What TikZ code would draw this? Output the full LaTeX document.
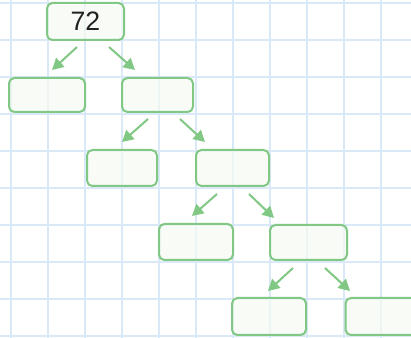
\documentclass[tikz,border=0pt]{standalone}
\usepackage{fontspec}
\setmainfont{Liberation Sans}
\usetikzlibrary{calc,arrows.meta}
\definecolor{gridblue}{HTML}{DAE9F8}
\definecolor{boxgreen}{HTML}{80C883}
\definecolor{boxfill}{HTML}{F6FAF3}
\definecolor{textdark}{HTML}{222222}
\begin{document}
\begin{tikzpicture}[x=0.75pt,y=-0.75pt,
  tbox/.style={draw=boxgreen,line width=1.5pt,rounded corners=4pt,fill=boxfill,fill opacity=0.7,text opacity=1,inner sep=0pt,text=textdark,font=\fontsize{20pt}{22pt}\selectfont},
  tarrow/.style={draw=boxgreen,line width=1.5pt,-{Triangle[length=8.5pt,width=9pt]},fill=boxgreen}]
\useasboundingbox (0,0) rectangle (411,338);
\fill[white] (0,0) rectangle (411,338);
\begin{scope}
\clip (0,0) rectangle (411,338);
\foreach \i in {0,...,10} {
  \draw[gridblue,line width=1.5pt] ({11+36.95*\i},0) -- ({11+36.95*\i},338);
  \draw[gridblue,line width=1.5pt] (0,{3+36.95*\i}) -- (411,{3+36.95*\i});
}
\node[tbox,minimum width=57.75pt,minimum height=27.75pt] (root) at (85.5,21.5) {72};
\node[tbox,minimum width=57pt,minimum height=25.5pt] (l1a) at (47,95) {};
\node[tbox,minimum width=53.25pt,minimum height=25.5pt] (l1b) at (157.5,95) {};
\node[tbox,minimum width=52.5pt,minimum height=27pt] (l2a) at (122,168) {};
\node[tbox,minimum width=54.75pt,minimum height=27pt] (l2b) at (232.5,168) {};
\node[tbox,minimum width=55.5pt,minimum height=27pt] (l3a) at (196,242) {};
\node[tbox,minimum width=57.75pt,minimum height=26.25pt] (l3b) at (308.5,242.5) {};
\node[tbox,minimum width=55.5pt,minimum height=27.75pt] (l4a) at (269,316.5) {};
\node[tbox,minimum width=56.25pt,minimum height=27.75pt] (l4b) at (383,316.5) {};
\end{scope}
\draw[tarrow] ($(root.south)+(-8.5,6)$) -- ($(l1a.north)+(5,-7)$);
\draw[tarrow] ($(root.south)+(23.5,6)$) -- ($(l1b.north)+(-22.5,-7)$);
\draw[tarrow] ($(l1b.south)+(-9.5,6)$) -- ($(l2a.north)+(0,-7)$);
\draw[tarrow] ($(l1b.south)+(22.5,6)$) -- ($(l2b.north)+(-27.5,-7)$);
\draw[tarrow] ($(l2b.south)+(-15.5,7)$) -- ($(l3a.north)+(-4,-7)$);
\draw[tarrow] ($(l2b.south)+(16.5,7)$) -- ($(l3b.north)+(-34.5,-6)$);
\draw[tarrow] ($(l3b.south)+(-15.5,7)$) -- ($(l4a.north)+(-1,-6)$);
\draw[tarrow] ($(l3b.south)+(16.5,7)$) -- ($(l4b.north)+(-33,-6)$);
\end{tikzpicture}
\end{document}
